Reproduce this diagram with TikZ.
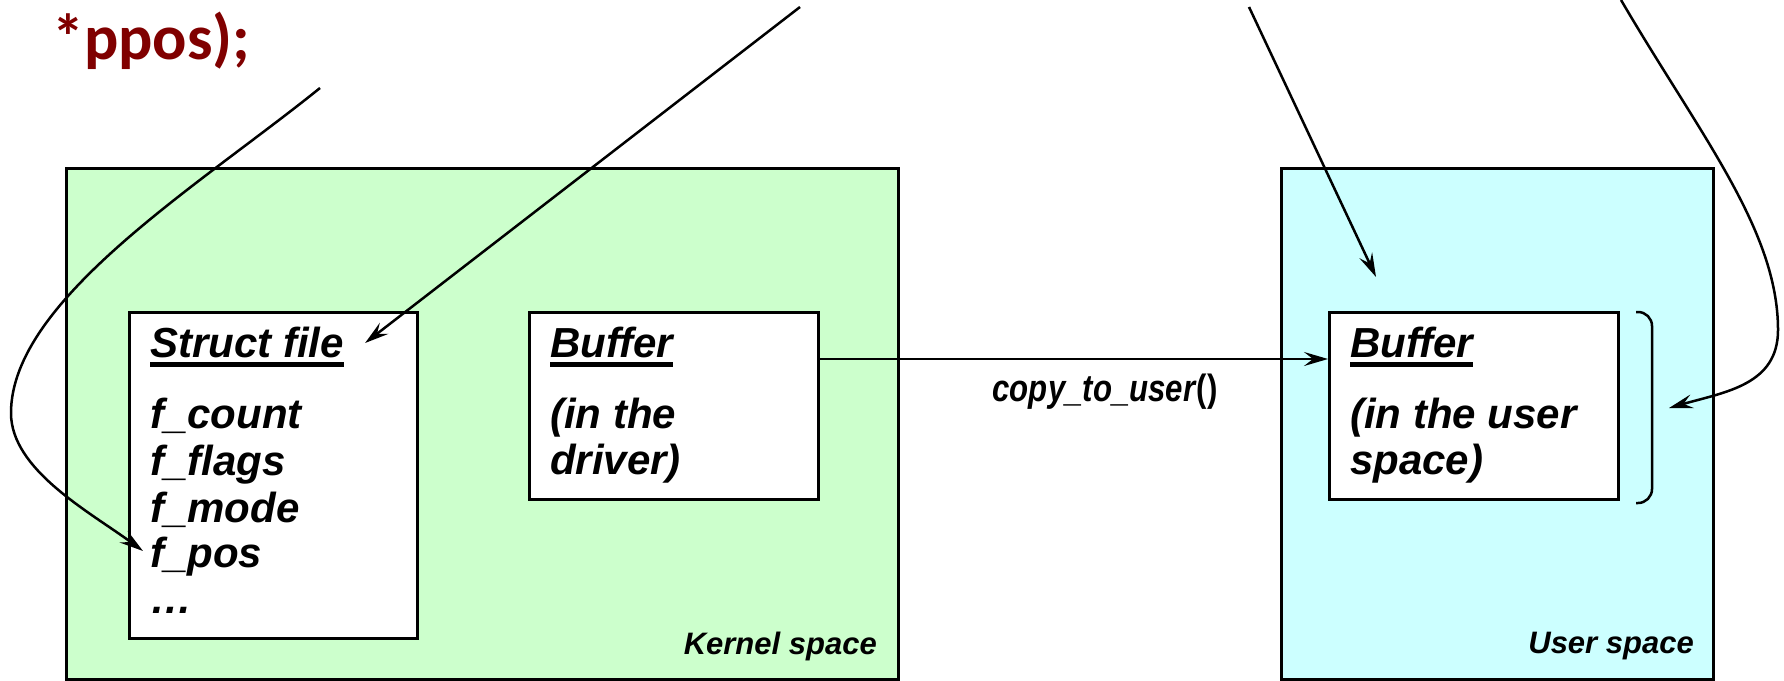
\documentclass[tikz,border=0pt]{standalone}
\usepackage{fontspec}
\usepackage{graphicx}
\setmainfont{Liberation Sans}
\newfontfamily\codefont{Carlito}
\usetikzlibrary{arrows.meta,calc}

\definecolor{kernelgreen}{RGB}{204,255,204}
\definecolor{usercyan}{RGB}{204,255,255}
\definecolor{codered}{RGB}{128,0,0}

% thick underline drawn below the baseline of a heading
\newcommand\ulbox[1]{\setbox0\hbox{#1}\rlap{\vrule width \wd0 height -4.5pt depth 9.5pt}\box0}

\begin{document}
\begin{tikzpicture}[
  x=1pt, y=-1pt,
  spacebox/.style={draw=black, line width=3pt, anchor=north west, inner sep=0pt,
                   minimum width=#1},
  spacebox/.default=432pt,
  whitebox/.style={draw=black, fill=white, line width=3pt, anchor=north west, inner sep=0pt},
  big/.style={font=\bfseries\itshape\fontsize{42}{46}\selectfont, anchor=base west, inner sep=0pt},
  small/.style={font=\bfseries\itshape\fontsize{31}{34}\selectfont, anchor=base east, inner sep=0pt},
  conn/.style={line width=2.5pt, line join=round,
               -{Stealth[length=24pt, width=14pt, inset=9pt]}},
]
\useasboundingbox (0,0) rectangle (1784,680);

% code fragment at the top
\node[font=\codefont\bfseries\fontsize{64}{72}\selectfont, text=codered,
      anchor=base west, inner sep=0pt] (code) at (52,59) {*ppos);};

% kernel and user address spaces
\node[spacebox=832pt, fill=kernelgreen, minimum height=511pt] (kernel) at (65,167) {};
\node[spacebox=432pt, fill=usercyan, minimum height=511pt] (user) at (1280,167) {};
\node[small] (klabel) at (877,654) {Kernel space};
\node[small] (ulabel) at (1694,653) {User space};

% struct file
\node[whitebox, minimum width=288pt, minimum height=326pt] (sfile) at (128,311) {};
\node[big] (sftitle) at (150,357) {\ulbox{Struct file}};
\node[big] (fcount) at (150,428) {f\_count};
\node[big] (fflags) at (150,475) {f\_flags};
\node[big] (fmode)  at (150,522) {f\_mode};
\node[big] (fpos)   at (150,567) {f\_pos};
\node[big] (fdots)  at (150,613) {…};

% driver buffer
\node[whitebox, minimum width=289pt, minimum height=187pt] (drv) at (528,311) {};
\node[big] (drvtitle) at (550,357) {\ulbox{Buffer}};
\node[big] (drvl1) at (550,428) {(in the};
\node[big] (drvl2) at (550,474) {driver)};

% user buffer
\node[whitebox, minimum width=289pt, minimum height=187pt] (ubuf) at (1328,311) {};
\node[big] (ubuftitle) at (1350,357) {\ulbox{Buffer}};
\node[big] (ubufl1) at (1350,428) {(in the user};
\node[big] (ubufl2) at (1350,474) {space)};

% bracket grouping the user buffer
\draw[line width=2.5pt, rounded corners=14pt]
  ($(ubuf.north east)+(16,1)$) -- ++(16,0) -- ++(0,191) -- ++(-16,0);

% copy between the buffers
\draw[conn] ($(drv.north east)+(0,48)$) -- ($(ubuf.north west)+(0,48)$);
\node[font=\bfseries\itshape, anchor=base, inner sep=0pt] (copylabel) at (1105,401)
  {\scalebox{0.82}[1]{\fontsize{38}{40}\selectfont copy\_to\_user\textup{()}}};

% free ends of the incoming pointers
\coordinate (s1) at (320,88);
\coordinate (s2) at (800,7);
\coordinate (s3) at (1249,7);
\coordinate (s4) at (1621,0);
\coordinate (t1) at ($(fpos.base west)+(-7,-16)$);
\coordinate (t2) at ($(sftitle.base east)+(21,-14)$);
\coordinate (t3) at ($(ubuf.north west)+(48,-34)$);
\coordinate (t4) at ($(ubuf.east)+(49,2)$);

\draw[conn] (s1) .. controls (200,185) and (11,300) .. (11,413)
                 .. controls (11,470) and (90,512) .. (t1);
\draw[conn] (s2) -- (t2);
\draw[conn] (s3) -- (t3);
\draw[conn] (s4) .. controls (1700,135) and (1778,230) .. (1778,330)
                 .. controls (1778,385) and (1725,392) .. (t4);
\end{tikzpicture}
\end{document}
